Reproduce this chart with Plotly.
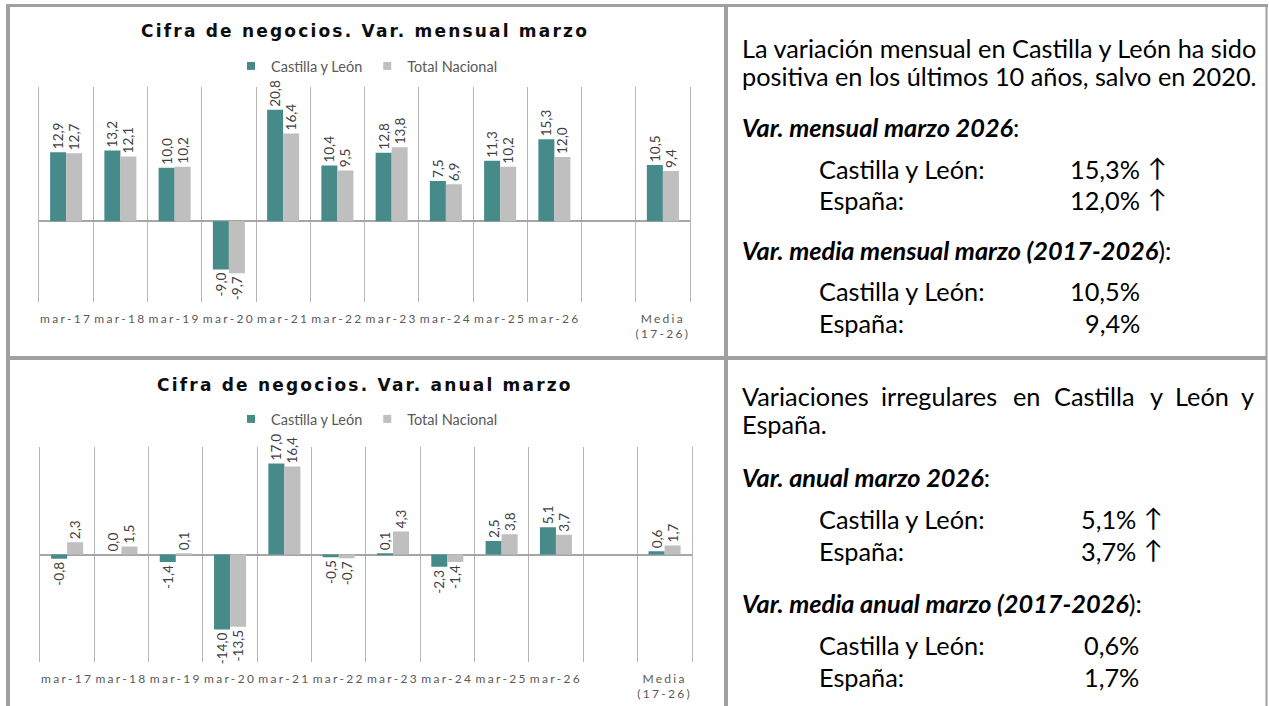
import plotly.graph_objects as go

# ---------------- data ----------------
categories = ["mar-17", "mar-18", "mar-19", "mar-20", "mar-21", "mar-22",
              "mar-23", "mar-24", "mar-25", "mar-26", " ", "Media (17-26)"]
tick_labels = ["mar-17", "mar-18", "mar-19", "mar-20", "mar-21", "mar-22",
               "mar-23", "mar-24", "mar-25", "mar-26", "", "Media<br>(17-26)"]
cyl_mensual = [12.9, 13.2, 10.0, -9.0, 20.8, 10.4, 12.8, 7.5, 11.3, 15.3, None, 10.5]
nac_mensual = [12.7, 12.1, 10.2, -9.7, 16.4, 9.5, 13.8, 6.9, 10.2, 12.0, None, 9.4]
cyl_anual = [-0.8, 0.0, -1.4, -14.0, 17.0, -0.5, 0.1, -2.3, 2.5, 5.1, None, 0.6]
nac_anual = [2.3, 1.5, 0.1, -13.5, 16.4, -0.7, 4.3, -1.4, 3.8, 3.7, None, 1.7]
series_names = ["Castilla y León", "Total Nacional"]
title_mensual = "Cifra de negocios. Var. mensual marzo"
title_anual = "Cifra de negocios. Var. anual marzo"

# ---------------- style ----------------
W, H = 1269, 706
TEAL = "#468a89"
GRAY = "#bfbfbf"
BORDER = "#a0a0a0"
GRID = "#b5b5b5"
LABEL_FONT = dict(family="Lato", size=13.5, color="#404040")
TICK_FONT = dict(family="Lato", size=12, color="#595959")
PANEL_FONT = dict(family="Lato", size=25.3, color="#000000")
LEGEND_FONT = dict(family="Lato", size=14.5, color="#595959")


def px(x):
    return x / W


def py(y):
    return 1 - y / H


def fmt(v):
    return f"{v:.1f}".replace(".", ",")


styled_ticks = [f"<span style='letter-spacing:2.3px'>{t}</span>" if t else t
                for t in tick_labels]

fig = go.Figure()

panels = [
    ("x", "y", "legend", cyl_mensual, nac_mensual),
    ("x2", "y2", "legend2", cyl_anual, nac_anual),
]
for xa, ya, lg, cyl, nac in panels:
    for vals, col in ((cyl, TEAL), (nac, GRAY)):
        fig.add_trace(go.Bar(
            x=categories, y=vals, xaxis=xa, yaxis=ya,
            marker=dict(color=col, line=dict(width=0)),
            texttemplate="%{y:.1f}", textposition="outside", textangle=-90,
            textfont=LABEL_FONT, cliponaxis=False, constraintext="none",
            showlegend=False, hoverinfo="x+y",
        ))
    for name, col in zip(series_names, (TEAL, GRAY)):
        fig.add_trace(go.Scatter(
            x=[None], y=[None], xaxis=xa, yaxis=ya, mode="markers",
            marker=dict(symbol="square", size=8, color=col),
            name=name, legend=lg, showlegend=True,
        ))

xaxis_common = dict(
    type="category", categoryorder="array", categoryarray=categories,
    tickmode="array", tickvals=categories, ticktext=styled_ticks,
    tickson="boundaries", showgrid=True, gridcolor=GRID, gridwidth=1,
    showline=False, zeroline=False, ticks="", tickfont=TICK_FONT,
    tickangle=0, ticklabelstandoff=8, fixedrange=True,
)
yaxis_common = dict(
    showticklabels=False, showgrid=False, zeroline=True,
    zerolinecolor="#a6a6a6", zerolinewidth=1.5,
    showline=True, mirror=True, linecolor=GRID, linewidth=1, ticks="",
    fixedrange=True,
)

fig.update_layout(
    width=W, height=H,
    margin=dict(l=0, r=0, t=0, b=0),
    paper_bgcolor="white", plot_bgcolor="white",
    separators=",.",
    barmode="group", bargap=0.41, bargroupgap=0,
    xaxis=dict(domain=[px(39), px(690)], anchor="y", **xaxis_common),
    yaxis=dict(domain=[py(301.7), py(87.3)], range=[-15, 25], anchor="x",
               **yaxis_common),
    xaxis2=dict(domain=[px(40), px(691.7)], anchor="y2", **xaxis_common),
    yaxis2=dict(domain=[py(661.7), py(447.3)], range=[-20, 20], anchor="x2",
                **yaxis_common),
    legend=dict(orientation="h", x=px(367), xanchor="center", y=py(66),
                yanchor="middle", font=LEGEND_FONT,
                itemwidth=30, bgcolor="rgba(0,0,0,0)"),
    legend2=dict(orientation="h", x=px(367), xanchor="center", y=py(419),
                 yanchor="middle", font=LEGEND_FONT,
                 itemwidth=30, bgcolor="rgba(0,0,0,0)"),
    showlegend=True,
)

# ---------------- titles ----------------
for txt, yy in ((title_mensual, 31), (title_anual, 385)):
    fig.add_annotation(
        xref="paper", yref="paper", x=px(364.5), y=py(yy),
        xanchor="center", yanchor="middle", showarrow=False,
        text=f"<span style='letter-spacing:2.2px'><b>{txt}</b></span>",
        font=dict(family="DejaVu Sans", size=17, color="#0d0d0d"),
    )

# ---------------- right text panels ----------------
def note(text, x, y, anchor="left", font=PANEL_FONT):
    fig.add_annotation(xref="paper", yref="paper", x=px(x), y=py(y),
                       xanchor=anchor, yanchor="middle", showarrow=False,
                       text=text, font=font)


ARROW = "\u2191"
# top panel
note("La variación mensual en Castilla y León ha sido", 740, 48)
note("positiva en los últimos 10 años, salvo en 2020.", 740, 76)
note("<b><i>Var. mensual marzo 2026</i></b>:", 740, 127)
note("Castilla y León:", 817, 169)
note(f"{fmt(cyl_mensual[9])}%", 1142, 169, "right")
note(ARROW, 1146, 167)
note("España:", 817, 200)
note(f"{fmt(nac_mensual[9])}%", 1142, 200, "right")
note(ARROW, 1146, 198)
note("<b><i>Var. media mensual marzo (2017-2026</i></b>):", 740, 250)
note("Castilla y León:", 817, 291)
note(f"{fmt(cyl_mensual[11])}%", 1142, 291, "right")
note("España:", 817, 323)
note(f"{fmt(nac_mensual[11])}%", 1142, 323, "right")

# bottom panel (first line justified)
note("Variaciones", 740, 396)
for word, cx in (("irregulares", 939), ("en", 1026), ("Castilla", 1094.5),
                 ("y", 1156), ("León", 1202)):
    note(word, cx, 396, "center")
note("y", 1256, 396, "right")
note("España.", 740, 424)
note("<b><i>Var. anual marzo 2026</i></b>:", 740, 477)
note("Castilla y León:", 817, 519)
note(f"{fmt(cyl_anual[9])}%", 1138, 519, "right")
note(ARROW, 1142, 517)
note("España:", 817, 551)
note(f"{fmt(nac_anual[9])}%", 1138, 551, "right")
note(ARROW, 1142, 549)
note("<b><i>Var. media anual marzo (2017-2026</i></b>):", 740, 603)
note("Castilla y León:", 817, 645)
note(f"{fmt(cyl_anual[11])}%", 1141, 645, "right")
note("España:", 817, 677)
note(f"{fmt(nac_anual[11])}%", 1141, 677, "right")

# ---------------- frame lines ----------------
frame = [
    (6, 5.5, 1268, 5.5, 3),
    (8, 4, 8, 706, 4),
    (726, 4, 726, 706, 4),
    (6, 358, 1267, 358, 4),
    (1266.5, 4, 1266.5, 706, 2),
]
for x0, y0, x1, y1, w in frame:
    fig.add_shape(type="line", xref="paper", yref="paper",
                  x0=px(x0), y0=py(y0), x1=px(x1), y1=py(y1),
                  line=dict(color=BORDER, width=w), layer="above")

fig.write_html("out.html",
               config={"displayModeBar": False},
               post_script="document.body.style.margin='0';"
                           "document.body.style.overflow='hidden';")
